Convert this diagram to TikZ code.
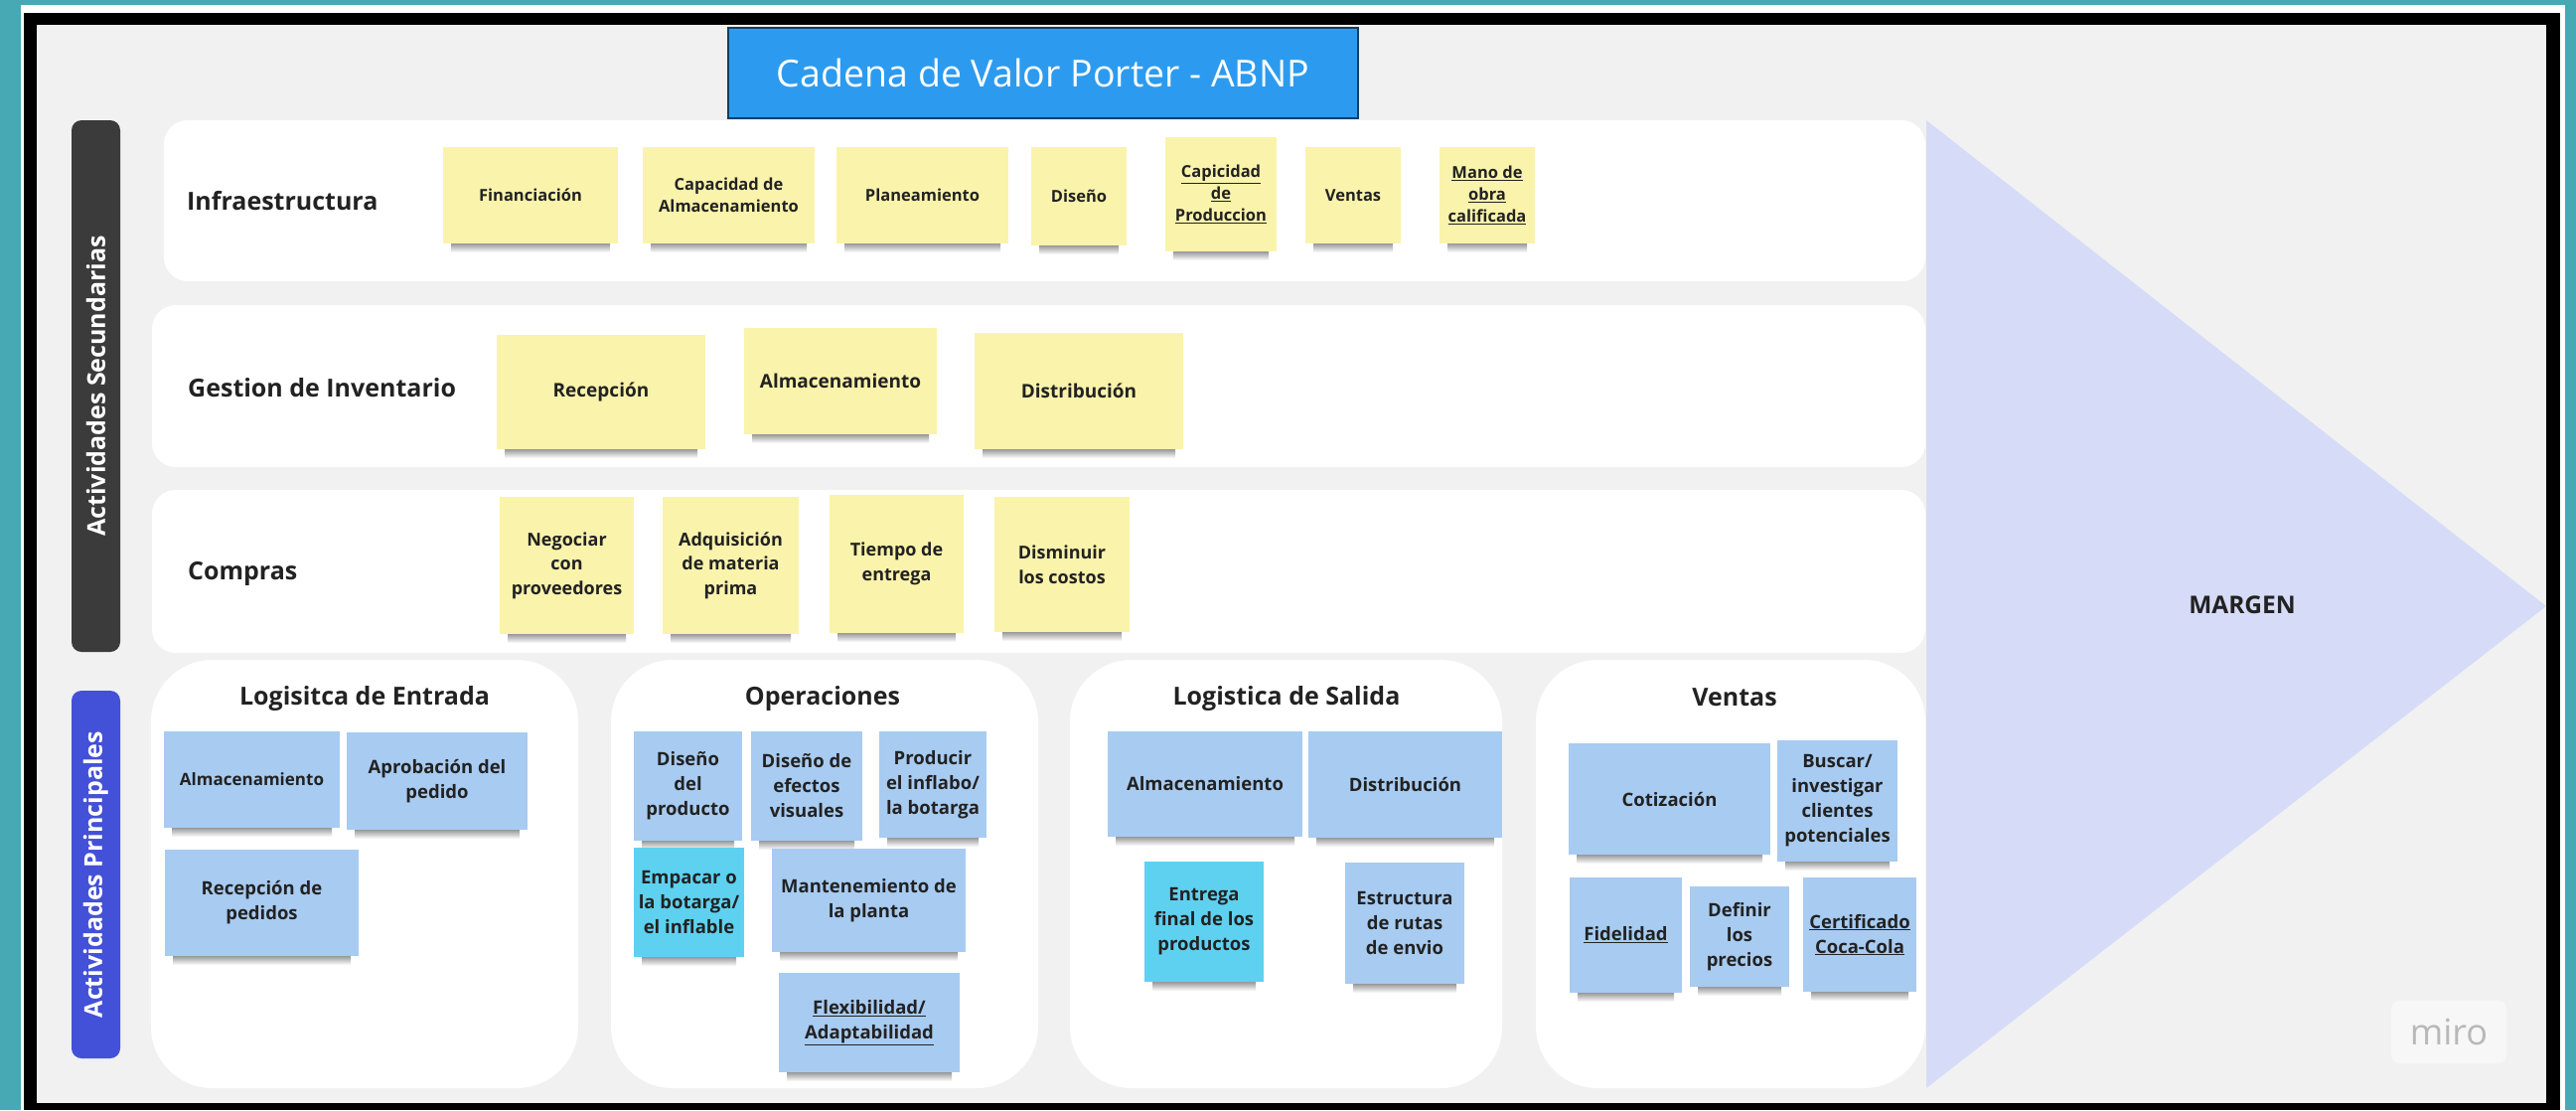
\documentclass[tikz,border=0pt]{standalone}
\usepackage{fontspec}
\setmainfont{Open Sans}
\definecolor{teal1}{HTML}{46A9B4}
\definecolor{bggray}{HTML}{F1F1F1}
\definecolor{ylw}{HTML}{FAF3AB}
\definecolor{lblue}{HTML}{A8CBF1}
\definecolor{cyn}{HTML}{5ED1F0}
\definecolor{ttlblue}{HTML}{2C9BEF}
\definecolor{darkbar}{HTML}{3B3B3B}
\definecolor{indigo}{HTML}{4350D8}
\definecolor{tri}{HTML}{D6DCF8}
\definecolor{txt}{HTML}{222222}
\tikzset{
  panel/.style={fill=white, draw=none, rounded corners=24pt},
  bigpanel/.style={fill=white, draw=none, rounded corners=62pt},
  stkbase/.style={draw=none, inner sep=0pt, align=center, text=txt, font=\bfseries\fontsize{16.5}{22}\selectfont},
  ystk/.style={stkbase, fill=ylw},
  ystkc/.style={stkbase, fill=ylw, font=\bfseries\fontsize{18}{24.5}\selectfont},
  bstk/.style={stkbase, fill=lblue, font=\bfseries\fontsize{18.5}{25}\selectfont},
  bstks/.style={stkbase, fill=lblue, font=\bfseries\fontsize{17}{23}\selectfont},
  cstk/.style={stkbase, fill=cyn, font=\bfseries\fontsize{18.5}{25}\selectfont},
  gstk/.style={stkbase, fill=ylw, font=\bfseries\fontsize{19}{25}\selectfont},
  rowlabel/.style={anchor=west, inner sep=0pt, text=txt, font=\bfseries\fontsize{25}{30}\selectfont},
  ptitle/.style={inner sep=0pt, text=txt, font=\bfseries\fontsize{25}{30}\selectfont},
  sidebar/.style={draw=none, rounded corners=10pt, inner sep=0pt},
  sidetext/.style={rotate=90, text=white, inner sep=0pt, font=\bfseries\fontsize{25}{30}\selectfont},
  shd/.style={top color=black!40, bottom color=white, draw=none}
}
\newcommand\stk[7]{%
  \pgfmathsetmacro\cx{(#2+#4)/2}\pgfmathsetmacro\cy{(#3+#5)/2}%
  \pgfmathsetmacro\ww{#4-#2}\pgfmathsetmacro\hh{#5-#3}%
  \shade[shd] (#2+8,#5) rectangle (#4-8,#5+9);
  \node[#6, minimum width=\ww pt, minimum height=\hh pt] (#1) at (\cx,\cy) {#7};}
\newcommand\ul[1]{\underline{#1}}
\begin{document}
\begin{tikzpicture}[x=1pt,y=-1pt]
% background and frame
\fill[teal1] (0,0) rectangle (2593,1117);
\useasboundingbox (0,0) rectangle (2593,1117);
\fill[white] (21,5) rectangle (2582,1117);
\fill[black] (24,13) rectangle (2577,1117);
\fill[bggray] (37,25) rectangle (2563,1110);
% margin triangle
\fill[tri] (1939,121) -- (2563,610) -- (1939,1095) -- cycle;
\node[inner sep=0pt, text=txt, font=\bfseries\fontsize{24.5}{30}\selectfont] (margen) at (2257,609) {MARGEN};
% title
\node[fill=ttlblue, draw=black!60!ttlblue, line width=1.5pt, minimum width=634pt, minimum height=91pt, inner sep=0pt,
      text=white, font=\fontsize{37.5}{44}\selectfont] (title) at (1050,73.5) {Cadena de Valor Porter - ABNP};
% side bars
\node[sidebar, fill=darkbar, minimum width=49pt, minimum height=535pt] (sec) at (96.5,388.5) {};
\node[sidetext] (sectext) at (sec.center) {Actividades Secundarias};
\node[sidebar, fill=indigo, minimum width=49pt, minimum height=370pt] (pri) at (96.5,880) {};
\node[sidetext] (pritext) at (pri.center) {Actividades Principales};
% row panels
\node[panel, minimum width=1773pt, minimum height=162pt] (infra) at (1051.5,202) {};
\node[panel, minimum width=1785pt, minimum height=163pt] (gest) at (1045.5,388.5) {};
\node[panel, minimum width=1785pt, minimum height=164pt] (comp) at (1045.5,575) {};
\node[rowlabel] (linfra) at (188,202) {Infraestructura};
\node[rowlabel] (lgest) at (189,390) {Gestion de Inventario};
\node[rowlabel] (lcomp) at (189,577) {Compras};
% bottom panels
\node[bigpanel, minimum width=430pt, minimum height=431pt] (pent) at (367,879.5) {};
\node[bigpanel, minimum width=430pt, minimum height=431pt] (pope) at (830,879.5) {};
\node[bigpanel, minimum width=435pt, minimum height=431pt] (psal) at (1294.5,879.5) {};
\node[bigpanel, minimum width=392pt, minimum height=431pt] (pven) at (1742,879.5) {};
\node[ptitle] (tent) at (367,703) {Logisitca de Entrada};
\node[ptitle] (tope) at (828,703) {Operaciones};
\node[ptitle] (tsal) at (1295,703) {Logistica de Salida};
\node[ptitle] (tven) at (1746,702) {Ventas};
% infraestructura stickies
\stk{i1}{446}{148}{622}{245}{ystk}{Financiación}
\stk{i2}{647}{148}{820}{245}{ystk}{Capacidad de\\Almacenamiento}
\stk{i3}{842}{148}{1015}{245}{ystk}{Planeamiento}
\stk{i4}{1038}{148}{1134}{247}{ystk}{Diseño}
\stk{i5}{1173}{138}{1285}{253}{ystk}{\ul{Capicidad}\\\ul{de}\\\ul{Produccion}}
\stk{i6}{1314}{148}{1410}{245}{ystk}{Ventas}
\stk{i7}{1449}{148}{1545}{245}{ystk}{\ul{Mano de}\\\ul{obra}\\\ul{calificada}}
% gestion stickies
\stk{g1}{500}{337}{710}{452}{gstk}{Recepción}
\stk{g2}{749}{330}{943}{437}{gstk}{Almacenamiento}
\stk{g3}{981}{335}{1191}{452}{gstk}{Distribución}
% compras stickies
\stk{c1}{503}{500}{638}{638}{ystkc}{Negociar\\con\\proveedores}
\stk{c2}{667}{500}{804}{638}{ystkc}{Adquisición\\de materia\\prima}
\stk{c3}{835}{498}{970}{637}{ystkc}{Tiempo de\\entrega}
\stk{c4}{1001}{500}{1137}{636}{ystkc}{Disminuir\\los costos}
% logistica de entrada
\stk{e1}{165}{736}{342}{833}{bstks}{Almacenamiento}
\stk{e2}{349}{737}{531}{835}{bstk}{Aprobación del\\pedido}
\stk{e3}{166}{855}{361}{962}{bstk}{Recepción de\\pedidos}
% operaciones
\stk{o1}{638}{736}{747}{846}{bstk}{Diseño\\del\\producto}
\stk{o2}{756}{736}{868}{846}{bstk}{Diseño de\\efectos\\visuales}
\stk{o3}{885}{736}{993}{843}{bstk}{Producir\\el inflabo/\\la botarga}
\stk{o4}{638}{853}{749}{963}{cstk}{Empacar o\\la botarga/\\el inflable}
\stk{o5}{777}{854}{972}{958}{bstk}{Mantenemiento de\\la planta}
\stk{o6}{784}{979}{966}{1079}{bstk}{\ul{Flexibilidad/}\\\ul{Adaptabilidad}}
% logistica de salida
\stk{s1}{1115}{736}{1311}{842}{bstk}{Almacenamiento}
\stk{s2}{1317}{736}{1512}{843}{bstk}{Distribución}
\stk{s3}{1152}{867}{1272}{988}{cstk}{Entrega\\final de los\\productos}
\stk{s4}{1354}{868}{1474}{990}{bstk}{Estructura\\de rutas\\de envio}
% ventas
\stk{v1}{1579}{748}{1782}{860}{bstk}{Cotización}
\stk{v2}{1789}{745}{1910}{867}{bstk}{Buscar/\\investigar\\clientes\\potenciales}
\stk{v3}{1580}{883}{1693}{999}{bstk}{\ul{Fidelidad}}
\stk{v4}{1701}{892}{1801}{993}{bstk}{Definir\\los\\precios}
\stk{v5}{1815}{883}{1929}{998}{bstk}{\ul{Certificado}\\\ul{Coca-Cola}}
% miro logo
\node[fill=black!3, rounded corners=8pt, minimum width=116pt, minimum height=63pt, inner sep=0pt] (mirobox) at (2465,1038.5) {};
\node[text=black!28, inner sep=0pt, font=\fontsize{36}{42}\selectfont] (miro) at (mirobox.center) {miro};
\end{tikzpicture}
\end{document}
